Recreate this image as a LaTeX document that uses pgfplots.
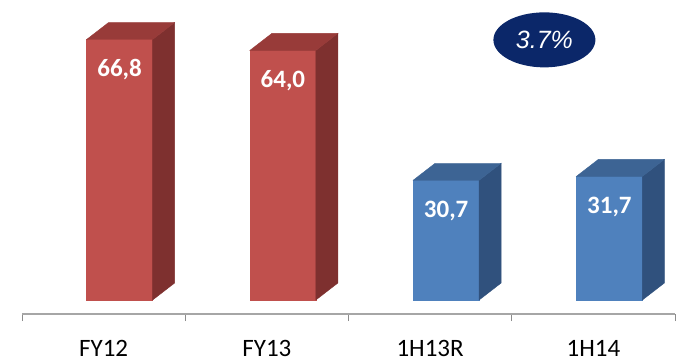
\documentclass[border=0pt]{standalone}
\usepackage{pgfplots}
\pgfplotsset{compat=1.18}
\usepackage{pgfplotstable}
\usepackage{fontspec}
\setmainfont{Carlito}
\newfontfamily\arialfont{Liberation Sans}
\usetikzlibrary{shapes.geometric}

\definecolor{redfront}{HTML}{C0504D}
\definecolor{redtop}{HTML}{983B39}
\definecolor{redside}{HTML}{7E302F}
\definecolor{bluefront}{HTML}{4F81BD}
\definecolor{bluetop}{HTML}{3D6494}
\definecolor{blueside}{HTML}{30517D}
\definecolor{navy}{HTML}{0B2769}
\definecolor{axisgray}{HTML}{A6A6A6}
\definecolor{tickgray}{HTML}{8C8C8C}

\pgfplotstableread{
x v lbl
0 66.8 66,8
1 64.0 64,0
}\redtab
\pgfplotstableread{
x v lbl
2 30.7 30,7
3 31.7 31,7
}\bluetab

\newcommand\yu{3.9}
\pgfdeclareplotmark{emptymark}{}

\pgfplotsset{
  box3d/.style n args={3}{
    scatter, only marks, mark=emptymark,
    visualization depends on={\thisrow{v} \as \val},
    scatter/@pre marker code/.code={%
      \pgfmathsetlengthmacro\H{-\val*\yu*1bp}%
      \fill[#1] (-17bp,\H) rectangle (49bp,0pt);
      \fill[#3] (49bp,\H) -- ++(22bp,17bp) -- (71bp,17bp) -- (49bp,0pt) -- cycle;
      \fill[#2] (-17bp,0pt) -- (49bp,0pt) -- (71bp,17bp) -- (5bp,17bp) -- cycle;
    },
    scatter/@post marker code/.code={},
  },
  vallabel/.style={
    only marks, mark=emptymark, nodes near coords,
    point meta=explicit symbolic,
    nodes near coords align={center},
    every node near coord/.append style={anchor=base, xshift=16bp, yshift=-37bp,
      text=white, font=\bfseries\fontsize{25bp}{25bp}\selectfont},
  },
}

\begin{document}
\begin{tikzpicture}
\begin{axis}[
  x=163.25bp, y=3.9bp,
  xmin=-0.5, xmax=3.5, ymin=-3.59, ymax=76.9,
  anchor=south west, at={(0,0)},
  axis y line=none, axis x line*=bottom,
  x axis line style={axisgray, line width=1.5bp},
  xtick={0,1,2,3}, xticklabels={FY12,FY13,1H13R,1H14},
  major tick length=0pt,
  minor xtick={-0.5,0.5,1.5,2.5,3.5},
  minor tick length=7bp,
  tick align=outside,
  every minor tick/.style={tickgray, line width=1bp},
  xticklabel style={font=\fontsize{25bp}{25bp}\selectfont, anchor=base, yshift=-42bp, inner sep=0pt},
  clip=false,
]
\addplot[box3d={redfront}{redtop}{redside}] table[x=x, y=v] {\redtab};
\addplot[box3d={bluefront}{bluetop}{blueside}] table[x=x, y=v] {\bluetab};
\addplot[vallabel] table[x=x, y=v, meta=lbl] {\redtab};
\addplot[vallabel] table[x=x, y=v, meta=lbl] {\bluetab};
\node[ellipse, fill=navy, minimum width=102bp, minimum height=55bp, inner sep=0pt,
  text=white, font=\arialfont\itshape\fontsize{25bp}{25bp}\selectfont]
  at (axis cs:2.70,66.7) {3.7\%};
\end{axis}
\pgfresetboundingbox
\useasboundingbox (-22bp,-47bp) rectangle (655bp,314bp);
\end{tikzpicture}
\end{document}
